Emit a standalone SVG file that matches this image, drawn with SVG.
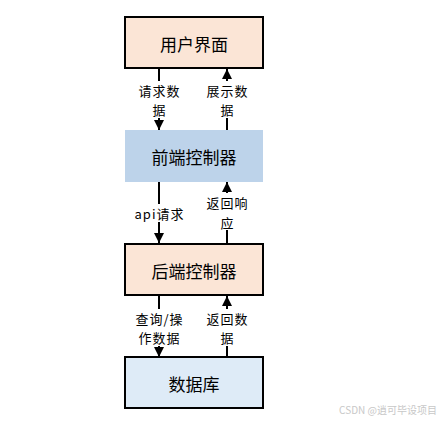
<svg xmlns="http://www.w3.org/2000/svg" width="441" height="422" viewBox="0 0 441 422">
<defs>
<style>
.box{stroke:#000;stroke-width:2}
.t{font-family:"Noto Sans CJK SC","Noto Sans",sans-serif;font-size:17px;fill:#000;text-anchor:middle;dominant-baseline:central}
.l{font-family:"Noto Sans CJK SC","Noto Sans",sans-serif;font-size:13px;letter-spacing:1px;fill:#000;text-anchor:middle;dominant-baseline:central}
.lb{fill:#fff}
.c{stroke:#000;stroke-width:2;fill:none}
</style>
<marker id="ah" viewBox="0 0 10 10" refX="10" refY="5" markerWidth="5" markerHeight="5" orient="auto" markerUnits="strokeWidth">
<path d="M0,0 L10,5 L0,10 Z" fill="#000"/>
</marker>
</defs>
<rect width="441" height="422" fill="#fff"/>
<g id="connectors">
<line class="c" x1="159" y1="69" x2="159" y2="130" marker-end="url(#ah)"/>
<line class="c" x1="227" y1="130" x2="227" y2="69" marker-end="url(#ah)"/>
<line class="c" x1="159" y1="182" x2="159" y2="243" marker-end="url(#ah)"/>
<line class="c" x1="227" y1="243" x2="227" y2="182" marker-end="url(#ah)"/>
<line class="c" x1="159" y1="296" x2="159" y2="357" marker-end="url(#ah)"/>
<line class="c" x1="227" y1="357" x2="227" y2="296" marker-end="url(#ah)"/>
<rect class="lb" x="136" y="81" width="46" height="37"/>
<text class="l" x="159.5" y="90">请求数</text><text class="l" x="159.5" y="109">据</text>
<rect class="lb" x="204" y="81" width="46" height="37"/>
<text class="l" x="227.5" y="90">展示数</text><text class="l" x="227.5" y="109">据</text>
<rect class="lb" x="134" y="204" width="50" height="18"/>
<text class="l" x="159.5" y="213">api请求</text>
<rect class="lb" x="204" y="193" width="46" height="37"/>
<text class="l" x="227.5" y="202">返回响</text><text class="l" x="227.5" y="222">应</text>
<rect class="lb" x="132" y="309" width="54" height="37"/>
<text class="l" x="159.5" y="318">查询/操</text><text class="l" x="159.5" y="337">作数据</text>
<rect class="lb" x="204" y="309" width="46" height="37"/>
<text class="l" x="227.5" y="318">返回数</text><text class="l" x="227.5" y="337">据</text>
</g>
<g id="ui">
<rect class="box" x="125" y="17" width="138" height="51" fill="#fbe5d6"/>
<text class="t" x="194" y="43">用户界面</text>
</g>
<g id="frontend">
<rect x="125" y="130" width="138" height="52" fill="#bdd3ea"/>
<text class="t" x="194" y="156">前端控制器</text>
</g>
<g id="backend">
<rect class="box" x="125" y="244" width="138" height="51" fill="#fbe5d6"/>
<text class="t" x="194" y="270">后端控制器</text>
</g>
<g id="db">
<rect class="box" x="125" y="357" width="138" height="51" fill="#deebf7"/>
<text class="t" x="194" y="383">数据库</text>
</g>
<text x="437" y="409" font-family="Noto Sans CJK SC,Noto Sans,sans-serif" font-size="10" fill="#c8c8c8" text-anchor="end" dominant-baseline="central">CSDN @逍可毕设项目</text>
</svg>
